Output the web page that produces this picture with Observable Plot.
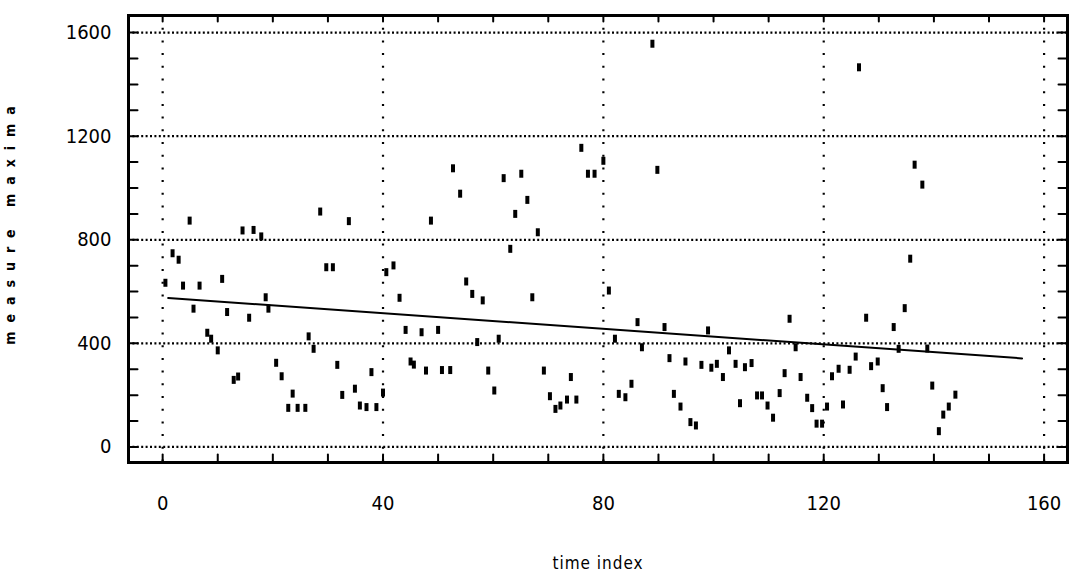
<!DOCTYPE html>
<html><head><meta charset="utf-8">
<script src="https://cdn.jsdelivr.net/npm/d3@7"></script>
<script src="https://cdn.jsdelivr.net/npm/@observablehq/plot@0.6"></script>
<style>
body{margin:0;background:#fff} svg{display:block}
.ylab text{letter-spacing:9px}
.xlab text{letter-spacing:1px}
</style>
</head><body><div id="chart"></div>
<script>
const timeIndex = [0.5,1.8,2.9,3.7,4.9,5.6,6.7,8.1,8.8,10.0,10.8,11.7,12.9,13.7,14.5,15.7,16.5,17.9,18.7,19.2,
  20.6,21.6,22.8,23.6,24.5,25.9,26.5,27.4,28.6,29.7,30.9,31.7,32.6,33.8,34.9,35.8,37.0,37.9,38.8,40.0,
  40.6,41.9,43.0,44.1,45.0,45.6,47.0,47.8,48.7,50.0,50.7,52.2,52.7,54.0,55.1,56.2,57.1,58.1,59.1,60.2,
  61.0,61.9,63.1,64.0,65.1,66.2,67.1,68.1,69.2,70.3,71.3,72.2,73.4,74.1,75.1,76.0,77.2,78.4,80.0,81.0,
  82.1,82.8,84.0,85.1,86.2,87.0,88.9,89.8,91.1,92.0,92.8,94.0,94.9,95.8,96.8,97.8,99.0,99.6,100.6,101.7,
  102.8,104.0,104.8,105.7,106.9,107.9,108.8,109.8,110.8,112.0,112.9,113.8,114.9,115.8,117.0,117.9,118.7,119.7,120.6,121.5,
  122.7,123.5,124.7,125.8,126.4,127.7,128.6,129.8,130.7,131.5,132.7,133.6,134.7,135.7,136.5,137.9,138.8,139.7,140.9,141.7,
  142.7,143.9];
// measured maxima
const maxima = [634,748,723,623,874,534,623,441,418,373,649,521,259,272,836,499,838,813,578,534,
  325,273,151,206,151,151,427,379,909,694,694,317,201,872,225,160,154,289,154,210,
  675,701,576,452,330,318,443,295,874,452,297,297,1076,978,639,591,405,566,295,218,
  418,1038,765,900,1055,954,578,829,295,196,147,160,183,270,183,1155,1055,1055,1105,604,
  418,205,192,244,482,385,1557,1070,463,343,205,156,330,96,83,317,450,306,321,270,
  373,321,169,308,324,199,199,160,113,208,285,495,385,270,190,150,90,90,156,273,
  302,164,298,349,1466,499,312,330,227,154,463,379,536,727,1090,1013,380,237,61,125,
  156,202];
// fitted trend line end points
const trendX = [1, 156];
const trendY = [575, 342];
// axes
const xTickLabels = [0, 40, 80, 120, 160];
const yTickLabels = [0, 400, 800, 1200, 1600];
const xMinorTicks = [0,10,20,30,40,50,60,70,80,90,100,110,120,130,140,150,160];
const yMinorTicks = [0,100,200,300,400,500,600,700,800,900,1000,1100,1200,1300,1400,1500,1600];
const xLabel = "time index";
const yLabel = "measure maxima";

const points = timeIndex.map((t, i) => ({t, v: maxima[i]}));
const trend = trendX.map((t, i) => ({t, v: trendY[i]}));

const bar = {draw(ctx) { ctx.moveTo(-2, -4); ctx.lineTo(2, -4); ctx.lineTo(2, 4); ctx.lineTo(-2, 4); ctx.closePath(); }};
const stem = {draw(ctx, l) { ctx.moveTo(0, 0); ctx.lineTo(0, -l); }};
const font = "'Liberation Sans Narrow', 'DejaVu Sans Condensed', 'Roboto Condensed', 'Liberation Sans', sans-serif";
const tickStyle = {shape: stem, anchor: "start", stroke: "#000", strokeWidth: 2};

const chart = Plot.plot({
  width: 1070,
  height: 578,
  marginLeft: 128,
  marginRight: 3,
  marginTop: 15,
  marginBottom: 116,
  style: {fontFamily: font, fontSize: "20px", color: "#000", background: "#fff"},
  x: {domain: [-6.2, 164.25]},
  y: {domain: [-60, 1666]},
  marks: [
    Plot.gridX(xTickLabels, {stroke: "#000", strokeOpacity: 1, strokeWidth: 2.2, strokeDasharray: "2,10.7"}),
    Plot.gridY(yTickLabels, {stroke: "#000", strokeOpacity: 1, strokeWidth: 2.2, strokeDasharray: "2,2.4"}),
    Plot.frame({stroke: "#000", strokeWidth: 3}),
    Plot.vector(yMinorTicks, {y: d => d, frameAnchor: "left", rotate: 90, length: 9, ...tickStyle}),
    Plot.vector(yMinorTicks, {y: d => d, frameAnchor: "right", rotate: -90, length: 9, ...tickStyle}),
    Plot.vector(xMinorTicks, {x: d => d, frameAnchor: "bottom", rotate: 0, length: 8, ...tickStyle}),
    Plot.vector(xMinorTicks, {x: d => d, frameAnchor: "top", rotate: 180, length: 6, ...tickStyle}),
    Plot.axisX(xTickLabels, {tickSize: 0, tickPadding: 33, fontSize: 20, label: null, tickFormat: d => String(d)}),
    Plot.axisY(yTickLabels, {tickSize: 0, tickPadding: 17, fontSize: 20, label: null, tickFormat: d => String(d)}),
    Plot.line(trend, {x: "t", y: "v", stroke: "#000", strokeWidth: 2}),
    Plot.dot(points, {x: "t", y: "v", symbol: bar, fill: "#000", stroke: null, r: 3}),
    Plot.text([xLabel], {frameAnchor: "bottom", dy: 106, fontSize: 17, fill: "#000", className: "xlab"}),
    Plot.text([yLabel], {frameAnchor: "left", textAnchor: "middle", dx: -118, dy: -18, rotate: -90, fontSize: 14, fontWeight: "bold", fill: "#000", className: "ylab"})
  ]
});
document.getElementById("chart").appendChild(chart);
</script>
</body></html>
